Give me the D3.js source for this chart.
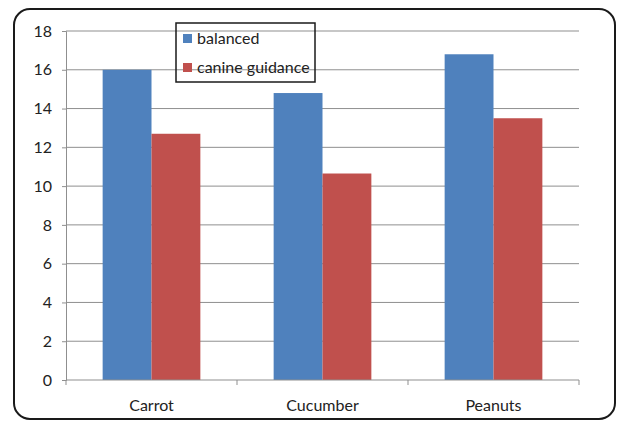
<!DOCTYPE html>
<html>
<head>
<meta charset="utf-8">
<script src="https://cdn.jsdelivr.net/npm/d3@7"></script>
<style>
  html, body { margin: 0; padding: 0; background: #fff; }
  svg { display: block; }
  text { font-family: Lato, "Open Sans", "Liberation Sans", sans-serif; fill: #222; }
</style>
</head>
<body>
<div id="chart"></div>
<script>
// Food categories and scores for the two guidance schemes
const categories = ["Carrot", "Cucumber", "Peanuts"];
const seriesNames = ["balanced", "canine guidance"];
const balanced = [16.0, 14.8, 16.8];
const canineGuidance = [12.7, 10.65, 13.5];
const yTicks = [0, 2, 4, 6, 8, 10, 12, 14, 16, 18];
const colors = ["#4F81BD", "#C0504D"];

const W = 618, H = 421;
const margin = { left: 66, right: 39, top: 31, bottom: 41 };
const fontSize = "16px";

const svg = d3.select("#chart").append("svg")
  .attr("width", W).attr("height", H);

// rounded outer frame
svg.append("rect")
  .attr("x", 14).attr("y", 9)
  .attr("width", 601).attr("height", 410)
  .attr("rx", 16).attr("ry", 16)
  .attr("fill", "#fff").attr("stroke", "#1a1a1a").attr("stroke-width", 2);

// one slot per category; bars take 2 of 3.5 bar widths (gap 150%)
const step = (W - margin.right - margin.left) / categories.length;
const barW = step / 3.5;

const x1 = d3.scaleBand()
  .domain(seriesNames)
  .range([0, barW * 2]);

const y = d3.scaleLinear()
  .domain([0, 18])
  .range([H - margin.bottom, margin.top]);

// horizontal gridlines
svg.append("g").selectAll("line")
  .data(yTicks.filter(d => d > 0))
  .join("line")
  .attr("x1", margin.left).attr("x2", W - margin.right)
  .attr("y1", d => y(d)).attr("y2", d => y(d))
  .attr("stroke", "#8f8f8f").attr("stroke-width", 1);

// y axis
const yAxis = svg.append("g")
  .attr("transform", `translate(${margin.left},0)`)
  .call(d3.axisLeft(y).tickValues(yTicks).tickSize(4).tickPadding(10));
yAxis.select(".domain").attr("stroke", "#8f8f8f");
yAxis.selectAll(".tick line").attr("stroke", "#8f8f8f");
yAxis.selectAll("text").style("font-size", fontSize).attr("fill", "#222");

// bars
const data = categories.map((c, i) => ({ cat: c, vals: [balanced[i], canineGuidance[i]] }));
const groups = svg.append("g").selectAll("g")
  .data(data)
  .join("g")
  .attr("transform", (d, i) => `translate(${margin.left + step * i + (step - barW * 2) / 2},0)`);

groups.selectAll("rect")
  .data(d => d.vals.map((v, j) => ({ key: seriesNames[j], v, j })))
  .join("rect")
  .attr("x", d => x1(d.key))
  .attr("width", x1.bandwidth())
  .attr("y", d => y(d.v))
  .attr("height", d => y(0) - y(d.v))
  .attr("fill", d => colors[d.j]);

// x axis with category separators
const xSep = d3.scaleLinear().domain([0, categories.length])
  .range([margin.left, W - margin.right]);
const xAxisG = svg.append("g")
  .attr("transform", `translate(0,${y(0)})`);
xAxisG.append("line")
  .attr("x1", margin.left).attr("x2", W - margin.right)
  .attr("stroke", "#8f8f8f");
xAxisG.selectAll("line.sep")
  .data(d3.range(categories.length + 1))
  .join("line").attr("class", "sep")
  .attr("x1", d => xSep(d)).attr("x2", d => xSep(d))
  .attr("y1", 0).attr("y2", 5)
  .attr("stroke", "#8f8f8f");
xAxisG.selectAll("text")
  .data(categories)
  .join("text")
  .attr("x", (d, i) => xSep(i + 0.5))
  .attr("y", 31)
  .attr("text-anchor", "middle")
  .style("font-size", fontSize)
  .text(d => d);

// legend
const lg = svg.append("g");
lg.append("rect")
  .attr("x", 176).attr("y", 23).attr("width", 139).attr("height", 59)
  .attr("fill", "none").attr("stroke", "#1a1a1a").attr("stroke-width", 1.5);
seriesNames.forEach((name, i) => {
  const yy = 38 + i * 29;
  lg.append("rect")
    .attr("x", 183).attr("y", yy - 4).attr("width", 9).attr("height", 9)
    .attr("fill", colors[i]);
  lg.append("text")
    .attr("x", 197).attr("y", yy + 5.5)
    .style("font-size", fontSize)
    .text(name);
});
</script>
</body>
</html>
